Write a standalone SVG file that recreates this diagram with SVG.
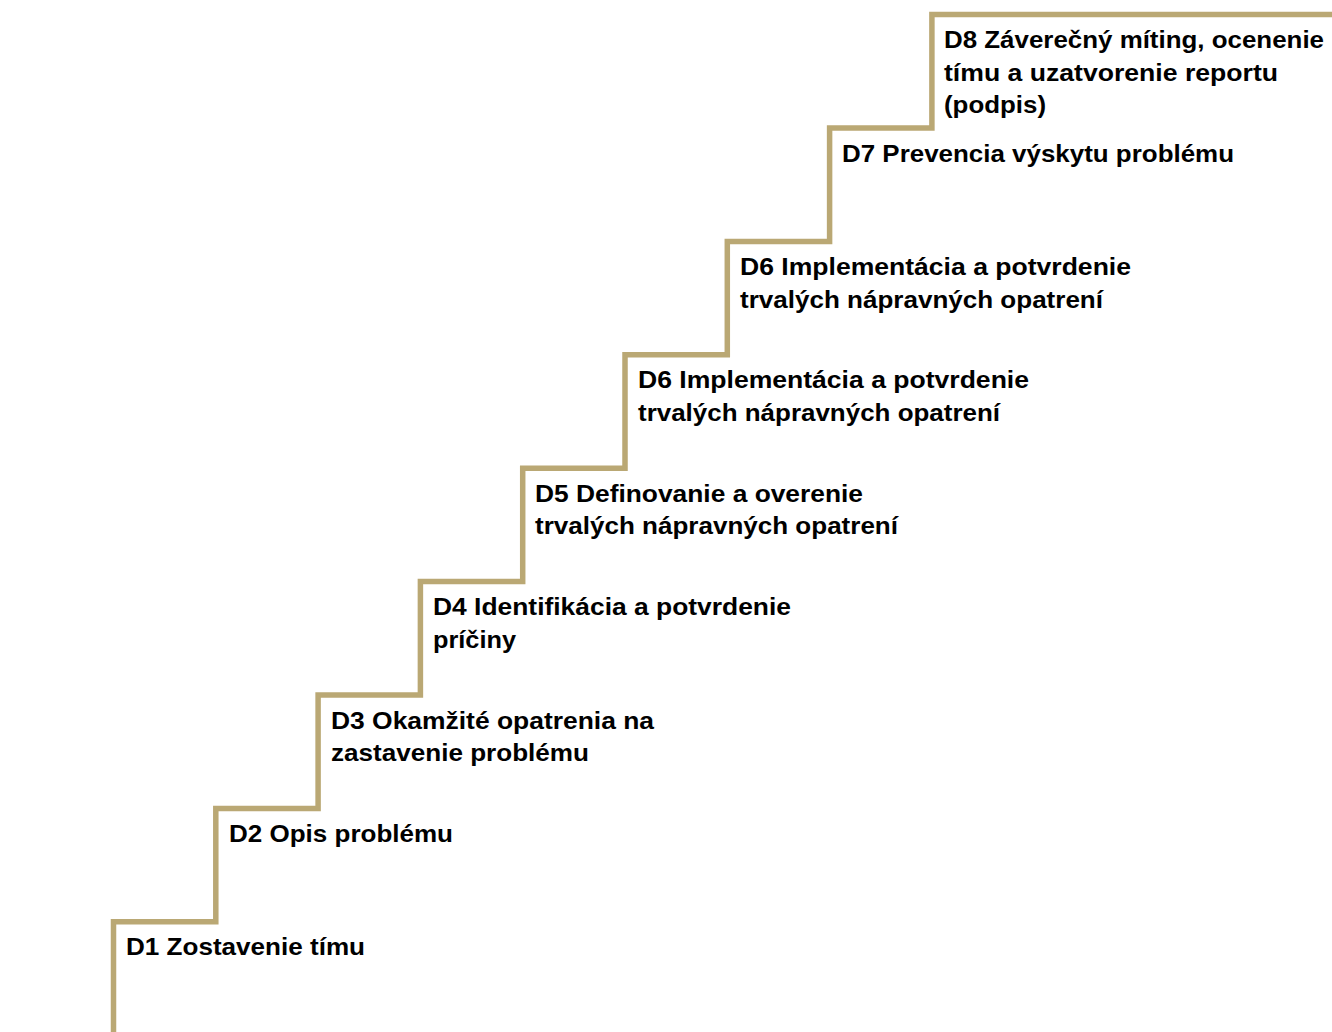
<svg xmlns="http://www.w3.org/2000/svg" width="1332" height="1032" viewBox="0 0 1332 1032">
<style>
.t{font-family:"Liberation Sans",Arial,sans-serif;font-weight:bold;font-size:24px;fill:#000}
.stair{fill:none;stroke:#BAA874;stroke-width:5.5;stroke-linejoin:miter}
</style>
<rect width="1332" height="1032" fill="#fff"/>
<g id="connectors">
<path class="stair" d="M113.5,1032 V921.8 H215.8 V808.4 H318.1 V695 H420.4 V581.6 H522.7 V468.2 H625 V354.8 H727.3 V241.4 H829.6 V128 H931.9 V14.6 H1332"/>
</g>
<g id="d1"><text class="t" x="126" y="955" textLength="239" lengthAdjust="spacingAndGlyphs">D1 Zostavenie tímu</text></g>
<g id="d2"><text class="t" x="229" y="842" textLength="224" lengthAdjust="spacingAndGlyphs">D2 Opis problému</text></g>
<g id="d3"><text class="t" x="331" y="728.5" textLength="323" lengthAdjust="spacingAndGlyphs">D3 Okamžité opatrenia na</text>
<text class="t" x="331" y="761" textLength="258" lengthAdjust="spacingAndGlyphs">zastavenie problému</text></g>
<g id="d4"><text class="t" x="433" y="615" textLength="358" lengthAdjust="spacingAndGlyphs">D4 Identifikácia a potvrdenie</text>
<text class="t" x="433" y="647.5" textLength="83" lengthAdjust="spacingAndGlyphs">príčiny</text></g>
<g id="d5"><text class="t" x="535" y="501.7" textLength="328" lengthAdjust="spacingAndGlyphs">D5 Definovanie a overenie</text>
<text class="t" x="535" y="534" textLength="363" lengthAdjust="spacingAndGlyphs">trvalých nápravných opatrení</text></g>
<g id="d6b"><text class="t" x="638" y="388.3" textLength="391" lengthAdjust="spacingAndGlyphs">D6 Implementácia a potvrdenie</text>
<text class="t" x="638" y="420.7" textLength="362" lengthAdjust="spacingAndGlyphs">trvalých nápravných opatrení</text></g>
<g id="d6a"><text class="t" x="740" y="275" textLength="391" lengthAdjust="spacingAndGlyphs">D6 Implementácia a potvrdenie</text>
<text class="t" x="740" y="307.5" textLength="363" lengthAdjust="spacingAndGlyphs">trvalých nápravných opatrení</text></g>
<g id="d7"><text class="t" x="842" y="162" textLength="392" lengthAdjust="spacingAndGlyphs">D7 Prevencia výskytu problému</text></g>
<g id="d8"><text class="t" x="944" y="48.3" textLength="380" lengthAdjust="spacingAndGlyphs">D8 Záverečný míting, ocenenie</text>
<text class="t" x="944" y="80.8" textLength="334" lengthAdjust="spacingAndGlyphs">tímu a uzatvorenie reportu</text>
<text class="t" x="944" y="113.3" textLength="102" lengthAdjust="spacingAndGlyphs">(podpis)</text></g>
</svg>
